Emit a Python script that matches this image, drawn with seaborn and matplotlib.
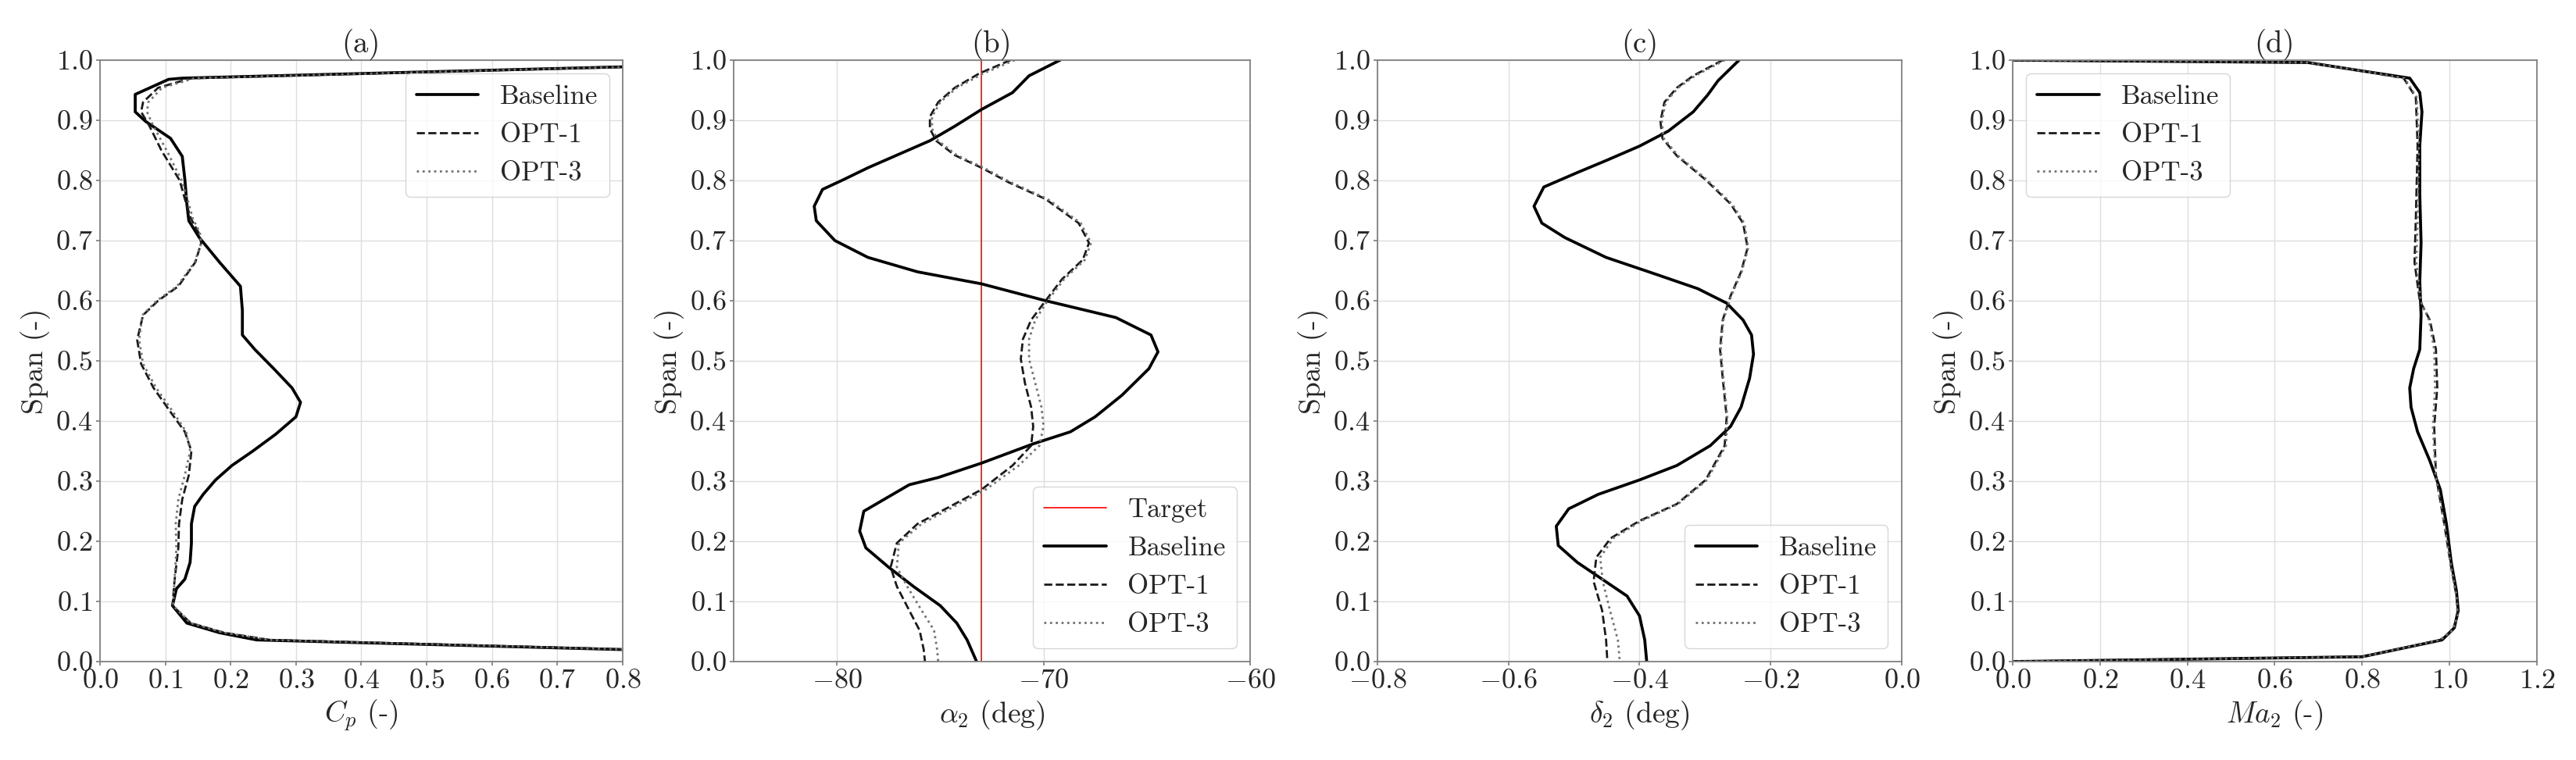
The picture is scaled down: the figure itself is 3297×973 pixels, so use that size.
import numpy as np
import pandas as pd
import matplotlib
matplotlib.use("Agg")
import matplotlib.pyplot as plt
import seaborn as sns

# ---- (a) Cp ----
cp_base_x = [1.20, 0.126, 0.105, 0.054, 0.054, 0.070, 0.108, 0.126, 0.130, 0.133, 0.136, 0.152, 0.183, 0.215, 0.218,
             0.218, 0.237, 0.266, 0.294, 0.307, 0.300, 0.269, 0.234, 0.202, 0.177, 0.158, 0.145, 0.140, 0.140, 0.138,
             0.130, 0.117, 0.111, 0.133, 0.183, 0.240, 1.50]
cp_base_span = [1.000, 0.970, 0.968, 0.943, 0.914, 0.898, 0.870, 0.840, 0.801, 0.761, 0.733, 0.705, 0.664, 0.624, 0.584,
                0.543, 0.519, 0.487, 0.455, 0.431, 0.407, 0.378, 0.350, 0.326, 0.302, 0.278, 0.258, 0.229, 0.197, 0.165,
                0.137, 0.121, 0.093, 0.064, 0.048, 0.036, 0.000]
cp_opt1_x = [1.20, 0.140, 0.089, 0.066, 0.063, 0.076, 0.094, 0.122, 0.130, 0.139, 0.151, 0.155, 0.146, 0.120, 0.089,
             0.066, 0.057, 0.063, 0.082, 0.108, 0.130, 0.140, 0.136, 0.126, 0.121, 0.120, 0.114, 0.111, 0.139, 0.190,
             0.260, 1.50]
cp_opt1_span = [1.000, 0.970, 0.954, 0.930, 0.914, 0.890, 0.850, 0.800, 0.769, 0.737, 0.713, 0.696, 0.664, 0.624, 0.600,
                0.576, 0.535, 0.495, 0.455, 0.415, 0.382, 0.350, 0.310, 0.270, 0.229, 0.189, 0.133, 0.093, 0.064, 0.048,
                0.036, 0.000]
cp_opt3_x = [1.20, 0.145, 0.095, 0.074, 0.072, 0.082, 0.102, 0.125, 0.134, 0.142, 0.153, 0.155, 0.145, 0.118, 0.087,
             0.065, 0.060, 0.066, 0.086, 0.112, 0.132, 0.138, 0.130, 0.120, 0.116, 0.117, 0.114, 0.112, 0.139, 0.190,
             0.260, 1.50]
cp_opt3_span = cp_opt1_span

# ---- (b) alpha2 ----
alpha_target = -73.0
al_base_x = [-69.2, -70.7, -71.5, -73.0, -74.3, -75.5, -77.1, -78.5, -79.7, -80.7, -81.1, -81.0, -80.1, -78.5, -76.1,
             -73.0, -69.9, -66.5, -64.8, -64.46, -64.9, -66.2, -67.5, -68.7, -70.5, -73.0, -75.1, -76.5, -77.5, -78.7,
             -78.9, -78.6, -77.5, -76.3, -75.0, -74.2, -73.7, -73.24]
al_base_span = [1.000, 0.974, 0.946, 0.918, 0.890, 0.866, 0.842, 0.821, 0.801, 0.785, 0.757, 0.733, 0.700, 0.672, 0.648,
                0.628, 0.600, 0.572, 0.543, 0.515, 0.487, 0.443, 0.407, 0.382, 0.362, 0.330, 0.306, 0.294, 0.274, 0.250,
                0.217, 0.189, 0.157, 0.125, 0.093, 0.064, 0.036, 0.000]
al_opt1_x = [-71.6, -73.1, -74.3, -75.1, -75.5, -75.5, -75.2, -74.3, -73.0, -71.7, -69.9, -68.3, -67.8, -68.1, -69.1,
             -69.9, -70.6, -71.0, -71.1, -70.9, -70.6, -70.5, -70.6, -71.5, -73.0, -74.3, -76.1, -77.1, -77.4, -77.1,
             -76.5, -76.0, -75.8, -75.74]
al_opt1_span = [1.000, 0.978, 0.954, 0.930, 0.906, 0.886, 0.866, 0.842, 0.821, 0.797, 0.769, 0.729, 0.696, 0.668, 0.636,
                0.600, 0.568, 0.536, 0.503, 0.463, 0.423, 0.391, 0.359, 0.326, 0.286, 0.262, 0.229, 0.197, 0.157, 0.125,
                0.085, 0.052, 0.020, 0.000]
al_opt3_x = [-71.4, -72.9, -74.2, -75.0, -75.4, -75.4, -75.1, -74.2, -72.9, -71.6, -69.8, -68.2, -67.7, -68.0, -69.0,
             -69.8, -70.4, -70.7, -70.7, -70.4, -70.1, -70.0, -70.2, -71.2, -72.8, -74.1, -75.9, -77.0, -77.1, -76.6,
             -75.9, -75.3, -75.15, -75.1]
al_opt3_span = al_opt1_span

# ---- (c) delta2 ----
de_base_x = [-0.248, -0.280, -0.296, -0.318, -0.356, -0.400, -0.451, -0.495, -0.546, -0.561, -0.549, -0.514, -0.451,
             -0.375, -0.311, -0.267, -0.242, -0.229, -0.226, -0.232, -0.245, -0.261, -0.292, -0.343, -0.400, -0.463,
             -0.508, -0.527, -0.524, -0.495, -0.457, -0.419, -0.400, -0.392, -0.389]
de_base_span = [1.000, 0.966, 0.942, 0.914, 0.882, 0.857, 0.833, 0.813, 0.789, 0.757, 0.729, 0.705, 0.672, 0.644, 0.620,
                0.596, 0.568, 0.543, 0.511, 0.471, 0.423, 0.391, 0.359, 0.326, 0.302, 0.278, 0.254, 0.225, 0.193, 0.165,
                0.137, 0.109, 0.076, 0.036, 0.000]
de_opt1_x = [-0.273, -0.318, -0.343, -0.362, -0.368, -0.365, -0.343, -0.299, -0.261, -0.242, -0.235, -0.245, -0.261,
             -0.273, -0.277, -0.273, -0.267, -0.270, -0.299, -0.343, -0.400, -0.444, -0.466, -0.470, -0.457, -0.451,
             -0.449]
de_opt1_span = [1.000, 0.974, 0.954, 0.930, 0.898, 0.870, 0.841, 0.801, 0.761, 0.729, 0.688, 0.648, 0.608, 0.568, 0.519,
                0.471, 0.407, 0.359, 0.302, 0.262, 0.234, 0.205, 0.173, 0.133, 0.085, 0.036, 0.000]
de_opt3_x = [-0.270, -0.315, -0.341, -0.360, -0.366, -0.363, -0.341, -0.297, -0.259, -0.240, -0.234, -0.244, -0.260,
             -0.272, -0.276, -0.272, -0.266, -0.268, -0.297, -0.341, -0.397, -0.440, -0.460, -0.456, -0.445, -0.433,
             -0.430]
de_opt3_span = de_opt1_span

# ---- (d) Ma2 ----
ma_base_x = [0.0, 0.676, 0.800, 0.909, 0.932, 0.937, 0.932, 0.932, 0.935, 0.932, 0.935, 0.932, 0.918, 0.909, 0.912,
             0.927, 0.955, 0.979, 0.993, 1.004, 1.016, 1.020, 1.011, 0.983, 0.800, 0.0]
ma_base_span = [1.000, 0.996, 0.982, 0.970, 0.946, 0.914, 0.858, 0.777, 0.696, 0.632, 0.576, 0.519, 0.487, 0.455, 0.423,
                0.382, 0.334, 0.286, 0.229, 0.165, 0.117, 0.085, 0.056, 0.036, 0.008, 0.000]
ma_opt1_x = [0.0, 0.676, 0.800, 0.895, 0.923, 0.927, 0.923, 0.920, 0.932, 0.955, 0.969, 0.972, 0.965, 0.969, 0.988,
             1.002, 1.016, 1.019, 1.007, 0.979, 0.800, 0.0]
ma_opt1_span = [1.000, 0.996, 0.982, 0.970, 0.938, 0.858, 0.737, 0.664, 0.600, 0.568, 0.519, 0.455, 0.391, 0.310, 0.229,
                0.165, 0.109, 0.076, 0.052, 0.036, 0.008, 0.000]
ma_opt3_x = [0.0, 0.676, 0.800, 0.897, 0.925, 0.930, 0.927, 0.924, 0.934, 0.953, 0.965, 0.967, 0.962, 0.968, 0.988,
             1.002, 1.016, 1.019, 1.007, 0.979, 0.800, 0.0]
ma_opt3_span = ma_opt1_span

series_names = ["Baseline", "OPT-1", "OPT-3"]

sns.set_theme(style="whitegrid")
plt.rcParams.update({
    "font.family": "serif",
    "font.serif": ["cmr10"],
    "mathtext.fontset": "cm",
    "axes.formatter.use_mathtext": True,
    "axes.edgecolor": "0.5",
    "axes.linewidth": 1.3,
    "grid.color": "0.87",
    "grid.linewidth": 1.0,
    "xtick.bottom": True,
    "ytick.left": True,
    "xtick.major.size": 3.5,
    "ytick.major.size": 3.5,
    "xtick.color": "0.5",
    "ytick.color": "0.5",
    "xtick.labelcolor": "0.15",
    "ytick.labelcolor": "0.15",
    "xtick.labelsize": 26,
    "ytick.labelsize": 26,
    "axes.labelsize": 27,
    "axes.titlesize": 28,
    "legend.fontsize": 25,
    "text.color": "0.15",
    "axes.labelcolor": "0.15",
})

styles = {
    "Baseline": dict(color="black", linestyle="-", linewidth=2.7),
    "OPT-1": dict(color="0.1", linestyle="--", linewidth=2.0),
    "OPT-3": dict(color="0.45", linestyle=":", linewidth=2.0),
}

fig = plt.figure(figsize=(32.97, 9.73), dpi=100)
positions = [
    [0.0388, 0.1295, 0.2029, 0.7914],
    [0.2848, 0.1295, 0.2005, 0.7914],
    [0.5347, 0.1295, 0.2035, 0.7914],
    [0.7813, 0.1295, 0.2035, 0.7914],
]
axes = [fig.add_axes(p) for p in positions]

panels = [
    ("(a)", r"$C_p$ (-)", [(cp_base_x, cp_base_span), (cp_opt1_x, cp_opt1_span), (cp_opt3_x, cp_opt3_span)],
     (0.0, 0.8), np.arange(0.0, 0.81, 0.1), "upper right"),
    ("(b)", r"$\alpha_2$ (deg)", [(al_base_x, al_base_span), (al_opt1_x, al_opt1_span), (al_opt3_x, al_opt3_span)],
     (-85, -60), [-80, -70, -60], "lower right"),
    ("(c)", r"$\delta_2$ (deg)", [(de_base_x, de_base_span), (de_opt1_x, de_opt1_span), (de_opt3_x, de_opt3_span)],
     (-0.8, 0.0), np.arange(-0.8, 0.01, 0.2), "lower right"),
    ("(d)", r"$Ma_2$ (-)", [(ma_base_x, ma_base_span), (ma_opt1_x, ma_opt1_span), (ma_opt3_x, ma_opt3_span)],
     (0.0, 1.2), np.arange(0.0, 1.21, 0.2), "upper left"),
]

for ax, (title, xlabel, curves, xlim, xticks, loc) in zip(axes, panels):
    if title == "(b)":
        ax.axvline(alpha_target, color="red", linewidth=1.2, label="Target")
    for name, (xs, ys) in zip(series_names, curves):
        df = pd.DataFrame({"x": xs, "span": ys})
        sns.lineplot(data=df, x="x", y="span", sort=False, estimator=None, ax=ax, label=name, **styles[name])
    ax.set_xlim(*xlim)
    ax.set_ylim(0, 1)
    ax.set_xticks(xticks)
    ax.set_yticks(np.arange(0, 1.01, 0.1))
    ax.set_xlabel(xlabel)
    ax.set_ylabel("Span (-)")
    ax.set_title(title, pad=2)
    ax.legend(loc=loc, handlelength=2.3, frameon=True)

fig.savefig("out.png", dpi=100)
